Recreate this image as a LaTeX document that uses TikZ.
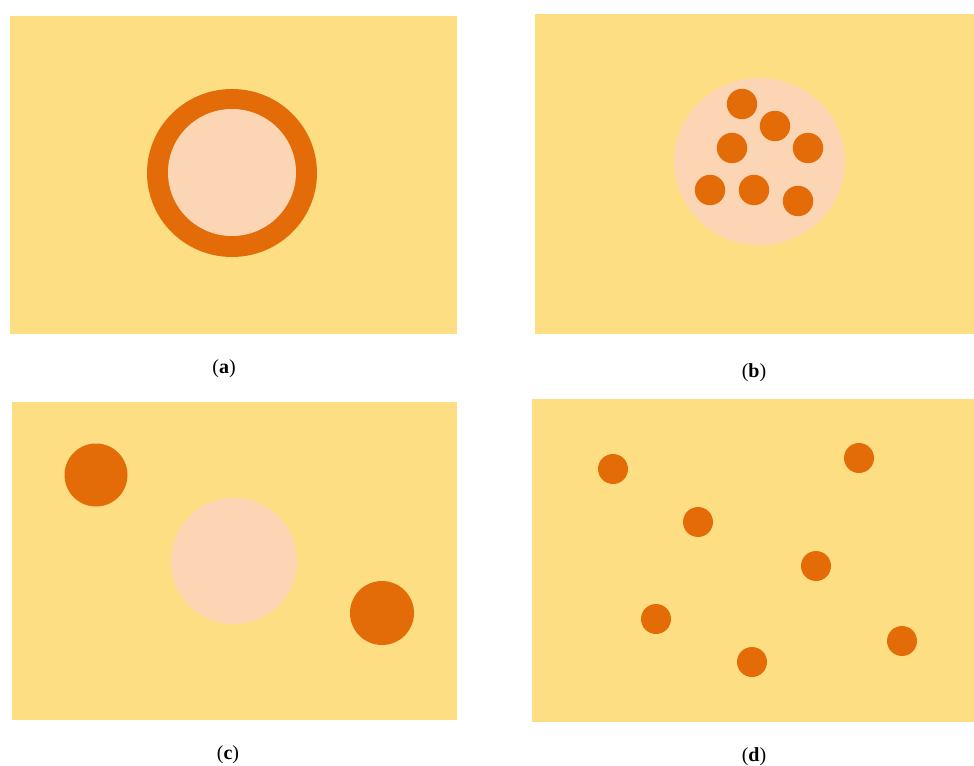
\documentclass[tikz,border=0pt]{standalone}
\usepackage{fontspec}
\setmainfont{Liberation Serif}
\definecolor{bgyel}{RGB}{254,222,130}
\definecolor{dotor}{RGB}{227,108,9}
\definecolor{pale}{RGB}{252,213,181}
\begin{document}
\begin{tikzpicture}[x=0.75pt,y=-0.75pt,
  panel/.style={fill=bgyel,draw=none},
  paledisc/.style={fill=pale,draw=none},
  dot/.style={fill=dotor,draw=none},
  lab/.style={font=\fontsize{15}{18}\selectfont,inner sep=0pt}]
\useasboundingbox (0,0) rectangle (974,766);
% panel a
\path[panel] (10,16) rectangle (457,334);
\path[dot] (232,173) ellipse (85 and 84);
\path[paledisc] (232,172.5) ellipse (64 and 63.5);
\node[lab] (la) at (224,369) {(\textbf{a})};
% panel b
\path[panel] (535,14) rectangle (974,334);
\path[paledisc] (759.5,161.5) ellipse (85.5 and 83.5);
\foreach \x/\y in {742/104,775/126,732/148,808/148,710/190,754/190,798/201}
  \path[dot] (\x,\y) circle (15.2);
\node[lab] (lb) at (754,373) {(\textbf{b})};
% panel c
\path[panel] (12,402) rectangle (457,720);
\path[paledisc] (234,561) circle (63);
\path[dot] (96,475) circle (31.5);
\path[dot] (382,613) circle (32);
\node[lab] (lc) at (228,755) {(\textbf{c})};
% panel d
\path[panel] (532,399) rectangle (974,722);
\foreach \x/\y in {613/469,859/458,698/522,816/566,656/619,752/662,902/641}
  \path[dot] (\x,\y) circle (15);
\node[lab] (ld) at (754,757) {(\textbf{d})};
\end{tikzpicture}
\end{document}
